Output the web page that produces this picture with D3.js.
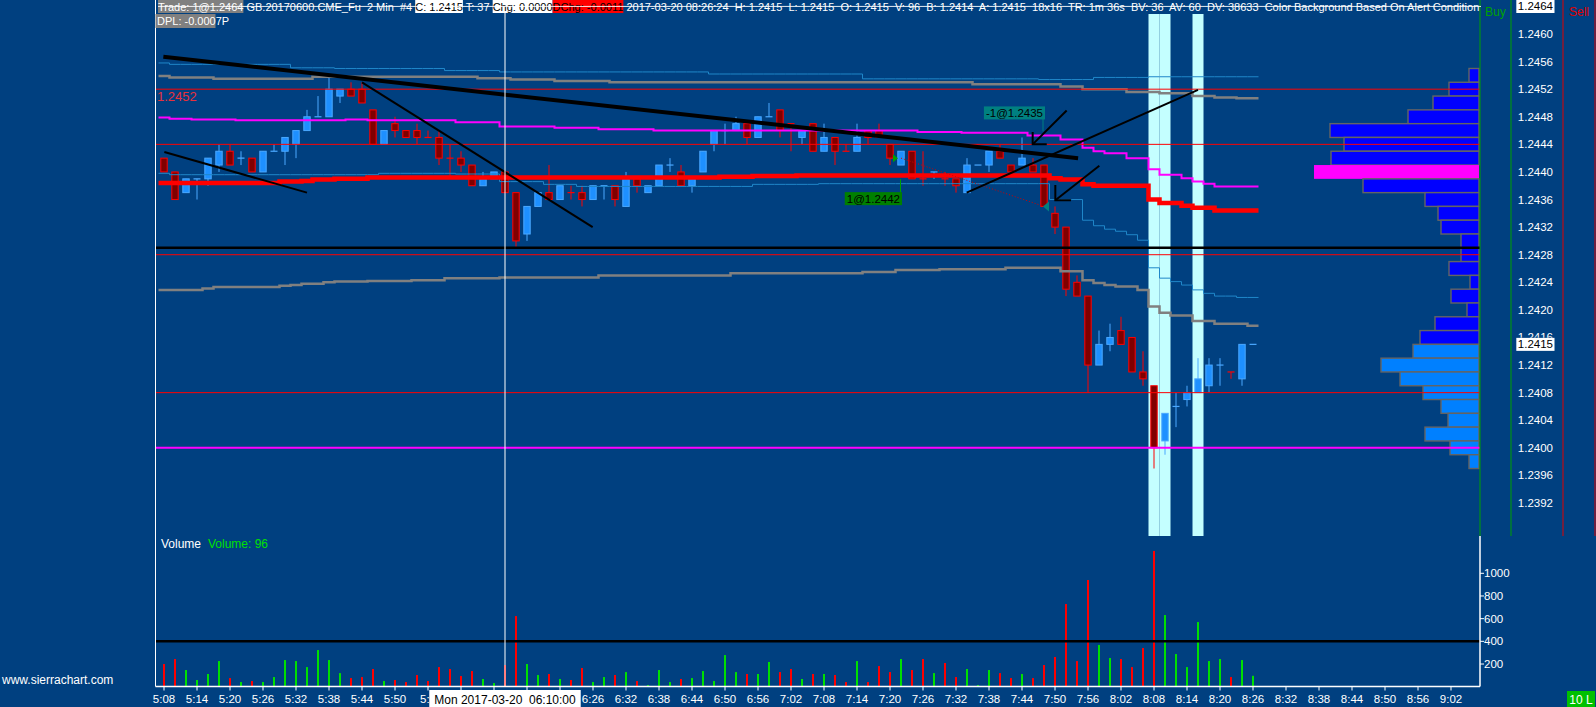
<!DOCTYPE html>
<html><head><meta charset="utf-8">
<script src="https://cdn.jsdelivr.net/npm/d3@7/dist/d3.min.js"></script>
<style>
html,body{margin:0;padding:0;background:#004080;overflow:hidden;}
svg{display:block;}
text{font-family:"Liberation Sans",Arial,sans-serif;white-space:pre;}
</style></head><body>
<svg id="chart" width="1596" height="707"></svg>
<script>
// ---------------- DATA ----------------
const timeLabels=["5:08","5:14","5:20","5:26","5:32","5:38","5:44","5:50","5:56","6:02","6:08","6:14","6:20","6:26","6:32","6:38","6:44","6:50","6:56","7:02","7:08","7:14","7:20","7:26","7:32","7:38","7:44","7:50","7:56","8:02","8:08","8:14","8:20","8:26","8:32","8:38","8:44","8:50","8:56","9:02"];
const priceTicks=[1.2392,1.2396,1.2400,1.2404,1.2408,1.2412,1.2416,1.2420,1.2424,1.2428,1.2432,1.2436,1.2440,1.2444,1.2448,1.2452,1.2456,1.2460];
const volumeTicks=[200,400,600,800,1000];

const barOpen=[1.2442,1.2440,1.2437,1.2439,1.2439,1.2441,1.2443,1.2442,1.2442,1.2440,
1.2443,1.2443,1.2444,1.2446,1.2448,1.2448,1.2451,1.2452,1.2452,1.2449,
1.2444,1.2447,1.2446,1.2446,1.2445,1.2445,1.2442,1.2442,1.2441,1.2438,
1.2439,1.2440,1.2437,1.2431,1.2435,1.2437,1.2436,1.2437,1.2437,1.2436,
1.2438,1.2438,1.2435,1.2439,1.2437,1.2438,1.2441,1.2440,1.2438,1.2440,
1.2444,1.2446,1.2446,1.2447,1.2445,1.2448,1.2449,1.2447,1.2445,1.2447,
1.2443,1.2445,1.2443,1.2443,1.2446,1.2446,1.2444,1.2441,1.2443,1.2439,
1.2440,1.2439,1.2439,1.2437,1.2441,1.2441,1.2443,1.2441,1.2441,1.2441,
1.2441,1.2434,1.2432,1.2424,1.2422,1.2412,1.2415,1.2417,1.2416,1.2411,
1.2409,1.2401,1.2406,1.2407,1.2408,1.2409,1.2412,1.2411,1.2410,1.2415];
const barHigh=[1.2442,1.2440,1.2439,1.2439,1.2442,1.2444,1.2444,1.2443,1.2442,1.2443,
1.2444,1.2445,1.2446,1.2449,1.2451,1.2454,1.2452,1.2453,1.2453,1.2449,
1.2446,1.2448,1.2446,1.2447,1.2446,1.2446,1.2444,1.2443,1.2441,1.2440,
1.2440,1.2440,1.2437,1.2435,1.2437,1.2441,1.2438,1.2438,1.2438,1.2438,
1.2438,1.2438,1.2440,1.2439,1.2438,1.2441,1.2442,1.2441,1.2439,1.2443,
1.2446,1.2447,1.2448,1.2447,1.2448,1.2450,1.2449,1.2447,1.2446,1.2447,
1.2447,1.2445,1.2444,1.2447,1.2446,1.2447,1.2444,1.2443,1.2443,1.2443,
1.2440,1.2440,1.2439,1.2442,1.2441,1.2443,1.2444,1.2441,1.2445,1.2442,
1.2441,1.2435,1.2432,1.2425,1.2422,1.2417,1.2418,1.2419,1.2416,1.2414,
1.2409,1.2405,1.2408,1.2409,1.2413,1.2413,1.2413,1.2411,1.2415,1.2415];
const barLow=[1.2440,1.2436,1.2437,1.2436,1.2438,1.2440,1.2441,1.2441,1.2440,1.2440,
1.2443,1.2441,1.2442,1.2446,1.2448,1.2448,1.2450,1.2451,1.2450,1.2444,
1.2444,1.2445,1.2445,1.2444,1.2445,1.2441,1.2439,1.2440,1.2438,1.2438,
1.2439,1.2437,1.2429,1.2430,1.2435,1.2436,1.2436,1.2436,1.2435,1.2436,
1.2436,1.2435,1.2435,1.2437,1.2437,1.2438,1.2440,1.2438,1.2437,1.2440,
1.2443,1.2444,1.2446,1.2444,1.2445,1.2448,1.2445,1.2443,1.2444,1.2443,
1.2443,1.2441,1.2443,1.2443,1.2444,1.2445,1.2441,1.2441,1.2439,1.2438,
1.2439,1.2438,1.2437,1.2437,1.2441,1.2440,1.2442,1.2440,1.2441,1.2440,
1.2435,1.2431,1.2422,1.2422,1.2408,1.2412,1.2414,1.2415,1.2411,1.2409,
1.2397,1.2399,1.2403,1.2406,1.2408,1.2408,1.2409,1.2410,1.2409,1.2415];
const barClose=[1.2440,1.2436,1.2439,1.2439,1.2442,1.2443,1.2441,1.2442,1.2440,1.2443,
1.2443,1.2445,1.2446,1.2448,1.2448,1.2452,1.2452,1.2451,1.2450,1.2444,
1.2446,1.2446,1.2445,1.2445,1.2445,1.2442,1.2442,1.2441,1.2438,1.2439,
1.2440,1.2437,1.2430,1.2435,1.2437,1.2436,1.2438,1.2437,1.2436,1.2438,
1.2438,1.2436,1.2439,1.2438,1.2438,1.2441,1.2441,1.2438,1.2439,1.2443,
1.2446,1.2446,1.2447,1.2445,1.2448,1.2448,1.2446,1.2447,1.2446,1.2443,
1.2445,1.2443,1.2443,1.2445,1.2445,1.2445,1.2442,1.2443,1.2439,1.2439,
1.2440,1.2439,1.2438,1.2441,1.2441,1.2443,1.2442,1.2440,1.2442,1.2440,
1.2435,1.2432,1.2423,1.2422,1.2412,1.2415,1.2416,1.2415,1.2411,1.2410,
1.2400,1.2405,1.2406,1.2408,1.2410,1.2412,1.2412,1.2411,1.2415,1.2415];
// U = up bar (blue / green volume), D = down bar (red)
const barDir="DDUUUUDUDU"+"UUUUUUUDDD"+"UDDDDDDDDU"+"UDDUUDUDDU"+"UDUDUUUDUU"+"UUUDUUDDUD"+"UDDUDDDUDD"+"UDDUUUDDUD"+"DDDDDUUDDD"+"DUUUUUUDUU";
const barVolume=[200,244,147,59,112,226,76,41,50,41,
85,235,226,173,323,235,120,76,85,156,
50,59,41,103,50,173,156,94,138,68,
32,191,623,200,103,112,68,59,165,41,
85,103,129,50,15,147,41,68,76,138,
50,279,129,112,112,218,129,156,68,112,
112,103,41,226,41,182,129,244,147,244,
120,209,85,156,15,147,120,76,112,76,
191,262,729,226,941,368,253,244,173,341,
1197,632,288,173,570,226,244,85,235,96];

// study step lines: [bar index where value starts, price]
const vwapUpperBand=[[0,1.24558],[1,1.24556],[12,1.24551],[16,1.2455],[26,1.24547],[31,1.24545],[50,1.24542],[64,1.24535],[80,1.24534],[85,1.24537],[90,1.24538]];
const grayUpper=[[0,1.24539],[1,1.24537],[5,1.24535],[14,1.24538],[29,1.24536],[32,1.24534],[36,1.24532],[41,1.2453],[74,1.24527],[82,1.24524],[84,1.2452],[88,1.24516],[91,1.24514],[94,1.2451],[96,1.24508],[98,1.24507]];
const magentaLine=[[0,1.24479],[1,1.24477],[3,1.24476],[7,1.24475],[17,1.24476],[19,1.24475],[27,1.24472],[31,1.24466],[36,1.24464],[40,1.24462],[45,1.2446],[69,1.24458],[73,1.24457],[79,1.24453],[82,1.24447],[84,1.24435],[85,1.2443],[86,1.24427],[88,1.2442],[90,1.24404],[91,1.24396],[93,1.24391],[94,1.24386],[95,1.24383],[96,1.24379]];
const vwapLine=[[0,1.24384],[11,1.24386],[13,1.24387],[14,1.24389],[16,1.2439],[19,1.24392],[51,1.24393],[54,1.24394],[58,1.24395],[81,1.24391],[82,1.24389],[84,1.24382],[85,1.2438],[90,1.2436],[91,1.24355],[93,1.24351],[94,1.24348],[96,1.24344]];
const vwapLowerBand=[[0,1.24398],[1,1.24396],[20,1.24398],[27,1.24397],[31,1.24386],[35,1.24382],[38,1.24379],[54,1.24382],[60,1.24383],[81,1.2436],[84,1.2433],[85,1.24322],[86,1.24317],[87,1.24314],[88,1.24309],[89,1.24301],[90,1.24261],[91,1.24246],[92,1.24241],[93,1.24236],[94,1.24229],[95,1.24224],[96,1.2422],[98,1.24218]];
const grayLower=[[0,1.24229],[4,1.24231],[5,1.24233],[11,1.24235],[12,1.24236],[13,1.24238],[15,1.2424],[16,1.24241],[19,1.24242],[23,1.24243],[26,1.24246],[31,1.24247],[40,1.2425],[52,1.24253],[64,1.24255],[67,1.24258],[71,1.24259],[77,1.24261],[82,1.24256],[84,1.24243],[85,1.24239],[86,1.24236],[87,1.24234],[89,1.24229],[90,1.24205],[91,1.24196],[92,1.24192],[94,1.24184],[96,1.2418],[99,1.24177]];

// horizontal levels
const levelPrices=[1.2452,1.2444,1.2429,1.2428,1.2408,1.2400];
const levelColors=["#ff0000","#ff0000","#000000","#ff0000","#ff0000","#ff00ff"];
const levelWidths=[1,1,2.5,1,1,2];

// alert bars (background colour)
const alertBars=[90,91,94];

// volume profile
const profilePrices=[1.2454,1.2452,1.2450,1.2448,1.2446,1.2444,1.2442,1.2440,1.2438,1.2436,1.2434,1.2432,1.2430,1.2428,1.2426,1.2424,1.2422,1.2420,1.2418,1.2416,1.2414,1.2412,1.2410,1.2408,1.2406,1.2404,1.2402,1.2400,1.2398];
const profileVolume=[100,300,460,710,1490,1350,1480,1650,1160,540,410,380,180,180,300,90,280,120,440,590,660,980,790,560,380,310,540,290,100];

// drawn trend lines [bar, price]
const trendLines=[[[-0.06,1.24567],[83.1,1.2442]],[[0.03,1.24429],[13.0,1.2437]],[[18.0,1.2453],[38.97,1.2432]],[[72.97,1.2437],[94.0,1.24519]]];
const trendWidths=[4,2,2,2];
const arrowShafts=[[[82.06,1.24489],[78.97,1.2444]],[[85.03,1.24409],[81.03,1.24359]]];
const arrowHeads=[[[78.97,1.24458],[78.97,1.2444],[80.25,1.2444]],[[81.03,1.24381],[81.03,1.24359],[82.45,1.24359]]];

// trades
const buyTrade={bar:67,price:1.2442,label:"1@1.2442"};
const sellTrade={bar:80,price:1.2435,label:"-1@1.2435"};

const lastPrice=1.2415, highPrice=1.2464, leftLevelLabel=1.2452;
const cursorBar=31;

// ---------------- DRAW ----------------
const svg=d3.select("#chart");
const L=155.5,R=1480,PB=536,VB=686.5;
const x=d3.scaleLinear().domain([0,117]).range([164,1451]);
const y=d3.scaleLinear().domain([1.2392,1.2460]).range([503,34]);
const yv=d3.scaleLinear().domain([0,1000]).range([686.7,573.3]);
const halfBar=5.5;

svg.append("rect").attr("width",1596).attr("height",707).attr("fill","#004080");
const defs=svg.append("defs");
defs.append("clipPath").attr("id","pc").append("rect").attr("x",L).attr("y",0).attr("width",R-L).attr("height",PB);

const gp=svg.append("g").attr("clip-path","url(#pc)");

// alert bands
gp.selectAll(".band").data(alertBars).join("rect")
  .attr("x",d=>x(d)-halfBar).attr("width",halfBar*2).attr("y",14).attr("height",PB-14).attr("fill","#c4ffff");

// candles
const n=barOpen.length;
const idx=d3.range(n);
const upFill="#1e90ff",upLine="#4aa8ff",dnFill="#800000",dnLine="#ff0000";
const cg=gp.append("g");
idx.forEach(i=>{
  const up=barDir[i]==="U";
  const cx=x(i);
  const col=up?upLine:dnLine;
  cg.append("line").attr("x1",cx).attr("x2",cx).attr("y1",y(barHigh[i])).attr("y2",y(barLow[i])).attr("stroke",col).attr("stroke-width",1);
  const o=barOpen[i],c=barClose[i];
  if(Math.abs(o-c)<1e-7){
    cg.append("line").attr("x1",cx-3.5).attr("x2",cx+3.5).attr("y1",y(o)).attr("y2",y(o)).attr("stroke",col).attr("stroke-width",1.2);
  } else {
    const t=y(Math.max(o,c)),b=y(Math.min(o,c));
    cg.append("rect").attr("x",cx-3.2).attr("width",6.4).attr("y",t).attr("height",b-t)
      .attr("fill",up?upFill:dnFill).attr("stroke",col).attr("stroke-width",1);
  }
});

// step studies
function expand(br){const v=[];let k=0;for(let i=0;i<n;i++){while(k+1<br.length&&br[k+1][0]<=i)k++;v.push(br[k][1]);}return v;}
const stepLine=d3.line().x(d=>d[0]).y(d=>d[1]).curve(d3.curveStepAfter);
function drawStep(br,color,w){
  const v=expand(br);
  const pts=v.map((p,i)=>[x(i)-halfBar,y(p)]);
  pts.push([x(n-1)+halfBar,y(v[n-1])]);
  gp.append("path").attr("d",stepLine(pts)).attr("fill","none").attr("stroke",color).attr("stroke-width",w);
}
drawStep(vwapUpperBand,"#1f86c8",1);
drawStep(vwapLowerBand,"#1f86c8",1);
drawStep(grayUpper,"#808080",2.5);
drawStep(grayLower,"#808080",2.5);
drawStep(magentaLine,"#ff00ff",2);
drawStep(vwapLine,"#ff0000",4.5);

// volume profile
const px=d3.scaleLinear().domain([0,1650]).range([0,165]);
const pocIdx=profileVolume.indexOf(d3.max(profileVolume));
gp.selectAll(".prof").data(profilePrices).join("rect")
  .attr("x",(d,i)=>1479-px(profileVolume[i])).attr("width",(d,i)=>px(profileVolume[i]))
  .attr("y",d=>y(d+0.0001)).attr("height",d=>y(d-0.0001)-y(d+0.0001))
  .attr("fill",(d,i)=>i===pocIdx?"#ff00ff":(d<=lastPrice-0.0001+1e-9?"#0080ff":"#0000ff"))
  .attr("stroke",(d,i)=>i===pocIdx?"none":"#646464").attr("stroke-width",1.4);

// horizontal levels
levelPrices.forEach((p,i)=>{
  gp.append("line").attr("x1",L).attr("x2",R).attr("y1",y(p)).attr("y2",y(p)).attr("stroke",levelColors[i]).attr("stroke-width",levelWidths[i]);
});
svg.append("text").attr("x",157).attr("y",y(leftLevelLabel)+12).attr("fill","#e8303c").style("font-size","13px").text(leftLevelLabel.toFixed(4));

// trades
const tl=gp.append("g");
tl.append("line").attr("x1",x(buyTrade.bar)).attr("y1",y(buyTrade.price)).attr("x2",x(sellTrade.bar)).attr("y2",y(sellTrade.price))
  .attr("stroke","#d00000").attr("stroke-width",1).attr("stroke-dasharray","1,2");
const bx=x(buyTrade.bar),by=y(buyTrade.price);
tl.append("path").attr("d",`M${bx-8},${by-4}L${bx-8},${by+4}L${bx-3},${by}Z`).attr("fill","#00a000");
tl.append("line").attr("x1",bx-0.5).attr("x2",bx-0.5).attr("y1",by+21).attr("y2",by+34).attr("stroke","#00a000");
const bt=tl.append("text").attr("y",by+45).attr("fill","#000").style("font-size","11.5px").text(buyTrade.label);
const bw=bt.node().getComputedTextLength();
bt.attr("x",bx+1-bw-2);
tl.append("rect").attr("x",bx+1-bw-4).attr("y",by+34).attr("width",bw+4).attr("height",13).attr("fill","#008000");
bt.raise();
const sx=x(sellTrade.bar),sy=y(sellTrade.price);
tl.append("path").attr("d",`M${sx-1},${sy}L${sx+5},${sy-5}L${sx+5},${sy+5}Z`).attr("fill","#008080");
tl.append("line").attr("x1",sx-1).attr("x2",sx-1).attr("y1",sy-88).attr("y2",sy-75).attr("stroke","#008080");
const stt=tl.append("text").attr("y",sy-89).attr("fill","#000").style("font-size","11.5px").text(sellTrade.label);
const sw=stt.node().getComputedTextLength();
stt.attr("x",sx+1-sw-2);
tl.append("rect").attr("x",sx+1-sw-4).attr("y",sy-100).attr("width",sw+4).attr("height",13).attr("fill","#008080");
stt.raise();

// trend lines & arrows
const tline=d3.line().x(d=>x(d[0])).y(d=>y(d[1]));
trendLines.forEach((t,i)=>gp.append("path").attr("d",tline(t)).attr("stroke","#000").attr("stroke-width",trendWidths[i]).attr("fill","none"));
arrowShafts.forEach(t=>gp.append("path").attr("d",tline(t)).attr("stroke","#000").attr("stroke-width",2).attr("fill","none"));
arrowHeads.forEach(t=>gp.append("path").attr("d",tline(t)).attr("stroke","#000").attr("stroke-width",2).attr("fill","none"));

// ---------------- VOLUME PANE ----------------
const gv=svg.append("g");
gv.selectAll(".vb").data(idx).join("rect")
  .attr("x",i=>x(i)-1).attr("width",2).attr("y",i=>yv(barVolume[i])).attr("height",i=>yv(0)-yv(barVolume[i]))
  .attr("fill",i=>barDir[i]==="U"?"#00e000":"#ff0000");
gv.append("line").attr("x1",L).attr("x2",R).attr("y1",yv(400)).attr("y2",yv(400)).attr("stroke","#000").attr("stroke-width",2.5);
svg.append("text").attr("x",161).attr("y",548).attr("fill","#fff").style("font-size","12px").text("Volume");
svg.append("text").attr("x",208).attr("y",548).attr("fill","#00e000").style("font-size","12px").text("Volume: "+barVolume[n-1]);

// cursor
svg.append("line").attr("x1",x(cursorBar)).attr("x2",x(cursorBar)).attr("y1",0).attr("y2",VB).attr("stroke","#fff").attr("stroke-width",1);

// frame lines
svg.append("line").attr("x1",L).attr("x2",L).attr("y1",0).attr("y2",VB).attr("stroke","#fff");
svg.append("line").attr("x1",L).attr("x2",R).attr("y1",VB).attr("y2",VB).attr("stroke","#fff").attr("stroke-width",1.5);
svg.append("line").attr("x1",R).attr("x2",R).attr("y1",PB).attr("y2",VB).attr("stroke","#fff").attr("stroke-width",1.5);
[[1480,"#00a000"],[1511,"#00a000"],[1563,"#e00000"],[1595,"#e00000"]].forEach(d=>{
  svg.append("line").attr("x1",d[0]).attr("x2",d[0]).attr("y1",0).attr("y2",PB).attr("stroke",d[1]).attr("stroke-width",1);
});
svg.append("text").attr("x",1485).attr("y",16).attr("fill","#00a000").style("font-size","12px").text("Buy");
svg.append("text").attr("x",1569).attr("y",16).attr("fill","#e00000").style("font-size","12px").text("Sell");

// price axis (tick labels hidden under the last-price box are clipped, as in the reference)
const lastTop=y(lastPrice)-6.5;
defs.append("clipPath").attr("id","lc").append("rect").attr("x",1480).attr("y",0).attr("width",116).attr("height",lastTop);
svg.selectAll(".pt").data(priceTicks).join("text").attr("x",1553).attr("y",d=>y(d)+4).attr("text-anchor","end")
  .attr("clip-path",d=>Math.abs(y(d)-y(lastPrice))<13?"url(#lc)":null)
  .attr("fill","#fff").style("font-size","11.5px").text(d=>Math.abs(y(d)-y(lastPrice))<13?"":d.toFixed(4))
  .each(function(d){
    if(Math.abs(y(d)-y(lastPrice))<13){
      // only the top slice of this label is visible above the box
      d3.select(this).append("tspan").text(d.toFixed(4)).attr("dy",0);
    }
  });
function boxLabel(p){
  const t=svg.append("text").attr("x",1553).attr("y",y(p)+4).attr("text-anchor","end").attr("fill","#000").style("font-size","11.5px").text(p.toFixed(4));
  const w=t.node().getComputedTextLength();
  svg.append("rect").attr("x",1553-w-1.5).attr("y",Math.max(0,y(p)-6.5)).attr("width",w+3).attr("height",13).attr("fill","#fff");
  t.raise();
}
boxLabel(highPrice);
boxLabel(lastPrice);

// volume axis
volumeTicks.forEach(v=>{
  svg.append("line").attr("x1",R).attr("x2",R+4).attr("y1",yv(v)).attr("y2",yv(v)).attr("stroke","#fff");
  svg.append("text").attr("x",R+4).attr("y",yv(v)+4).attr("fill","#fff").style("font-size","11.5px").text(v);
});

// time axis (labels covered by the cursor date box are hidden, as in the reference)
const curLab="Mon 2017-03-20  06:10:00";
const ct=svg.append("text").attr("x",x(cursorBar)).attr("y",703.5).attr("text-anchor","middle").attr("fill","#000").style("font-size","12px").text(curLab);
const cw=ct.node().getComputedTextLength();
const boxL=x(cursorBar)-cw/2-5, boxR=x(cursorBar)+cw/2+5;
defs.append("clipPath").attr("id","tc").append("rect").attr("x",0).attr("y",680).attr("width",boxL).attr("height",27);
const tg=svg.append("g");
timeLabels.forEach((lab,k)=>{
  const tx=x(k*3);
  tg.append("line").attr("x1",tx).attr("x2",tx).attr("y1",VB).attr("y2",VB+4).attr("stroke","#fff");
  if(tx+12>boxL && tx-12<boxR){
    if(tx-12<boxL) tg.append("text").attr("x",tx).attr("y",703).attr("text-anchor","middle").attr("fill","#fff")
      .attr("clip-path","url(#tc)").style("font-size","11.5px").text(lab.slice(0,3));
    return;
  }
  tg.append("text").attr("x",tx).attr("y",703).attr("text-anchor","middle").attr("fill","#fff").style("font-size","11.5px").text(lab);
});
svg.append("rect").attr("x",boxL).attr("y",690).attr("width",cw+10).attr("height",17).attr("fill","#fff");
ct.raise();

svg.append("text").attr("x",2).attr("y",684).attr("fill","#fff").style("font-size","12px").text("www.sierrachart.com");
svg.append("rect").attr("x",1567).attr("y",691).attr("width",28).attr("height",16).attr("fill","#00c000");
svg.append("text").attr("x",1581).attr("y",703.5).attr("text-anchor","middle").attr("fill","#fff").style("font-size","12px").text("10 L");

// header
const headerSegments=[
 ["Trade: 1@1.2464","#808080","#ffffff"],
 [" GB.20170600.CME_Fu  2 Min  #4 ",null,"#ffffff"],
 ["C: 1.2415","#ffffff","#000000"],
 [" T: 37 ",null,"#ffffff"],
 ["Chg: 0.0000","#ffffff","#000000"],
 ["DChg: -0.0011","#ff0000","#000000"],
 [" 2017-03-20 08:26:24  H: 1.2415  L: 1.2415  O: 1.2415  V: 96  B: 1.2414  A: 1.2415  18x16  TR: 1m 36s  BV: 36  AV: 60  DV: 38633  Color Background Based On Alert Condition",null,"#ffffff"]
];
const hg=svg.append("g");
function drawHeader(fs){
  hg.selectAll("*").remove();
  const bgG=hg.append("g"),txG=hg.append("g");
  let cx=158;
  headerSegments.forEach(s=>{
    const t=txG.append("text").attr("x",cx).attr("y",10.5).attr("fill",s[2]).style("font-size",fs+"px").text(s[0]);
    const w=t.node().getComputedTextLength();
    if(s[1]) bgG.append("rect").attr("x",cx).attr("y",0).attr("width",w).attr("height",13).attr("fill",s[1]);
    cx+=w;
  });
  return cx;
}
let end=drawHeader(11);
const fs2=11*(1481-158)/(end-158);
drawHeader(fs2);
hg.append("line").attr("x1",158).attr("x2",1481).attr("y1",y(highPrice)).attr("y2",y(highPrice)).attr("stroke","#ffffff").attr("stroke-width",1).attr("opacity",0.9);
svg.append("rect").attr("x",155.5).attr("y",14).attr("width",60).attr("height",14).attr("fill","#808080");
svg.append("text").attr("x",157).attr("y",25).attr("fill","#fff").style("font-size","11px").text("DPL: -0.0007P");
</script>
</body></html>
